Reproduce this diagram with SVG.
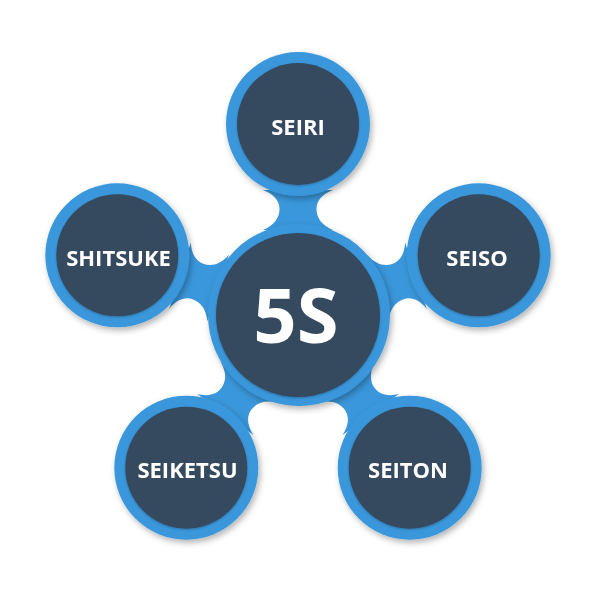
<svg xmlns="http://www.w3.org/2000/svg" width="600" height="600" viewBox="0 0 600 600">
  <defs>
    <filter id="shadow" x="-20%" y="-20%" width="150%" height="150%">
      <feDropShadow dx="2" dy="3" stdDeviation="3" flood-color="#000" flood-opacity="0.3"/>
    </filter>
    <filter id="inner" x="-20%" y="-20%" width="140%" height="140%">
      <feDropShadow dx="0" dy="1" stdDeviation="1.2" flood-color="#000" flood-opacity="0.25"/>
    </filter>
    <path id="neck" d="M84,-35 C89,-23 97,-18.5 105,-18.5 C113,-18.5 120,-24 124,-35 L124,35 C120,24 113,18.5 105,18.5 C97,18.5 89,23 84,35 Z"/>
  </defs>
  <style>
    .ring { fill: #3a97db; }
    .core { fill: #34495e; }
    .neck { fill: #3a97db; }
    .lbl { font-family: "Open Sans", "Liberation Sans", sans-serif; font-weight: bold; fill: #ffffff; text-anchor: middle; }
    .sat { font-size: 22px; }
    .hub { font-size: 76px; }
  </style>
  <rect x="0" y="0" width="600" height="600" fill="#ffffff"/>

  <g id="connectors" transform="translate(298,314)">
    <use href="#neck" class="neck" transform="rotate(-90)"/>
    <use href="#neck" class="neck" transform="rotate(-18)"/>
    <use href="#neck" class="neck" transform="rotate(54)"/>
    <use href="#neck" class="neck" transform="rotate(126)"/>
    <use href="#neck" class="neck" transform="rotate(198)"/>
  </g>

  <g id="seiri" filter="url(#shadow)">
    <circle class="ring" cx="298" cy="124" r="72"/>
    <circle class="core" cx="298" cy="124" r="61" filter="url(#inner)"/>
    <text class="lbl sat" x="298" y="134.5">SEIRI</text>
  </g>
  <g id="seiso" filter="url(#shadow)">
    <circle class="ring" cx="478.7" cy="255.3" r="72"/>
    <circle class="core" cx="478.7" cy="255.3" r="61" filter="url(#inner)"/>
    <text class="lbl sat" x="477" y="265.5">SEISO</text>
  </g>
  <g id="seiton" filter="url(#shadow)">
    <circle class="ring" cx="409.7" cy="467.7" r="72"/>
    <circle class="core" cx="409.7" cy="467.7" r="61" filter="url(#inner)"/>
    <text class="lbl sat" x="408" y="477.5">SEITON</text>
  </g>
  <g id="seiketsu" filter="url(#shadow)">
    <circle class="ring" cx="186.3" cy="467.7" r="72"/>
    <circle class="core" cx="186.3" cy="467.7" r="61" filter="url(#inner)"/>
    <text class="lbl sat" x="187.5" y="477.5">SEIKETSU</text>
  </g>
  <g id="shitsuke" filter="url(#shadow)">
    <circle class="ring" cx="117.3" cy="255.3" r="72"/>
    <circle class="core" cx="117.3" cy="255.3" r="61" filter="url(#inner)"/>
    <text class="lbl sat" x="118.5" y="265.5">SHITSUKE</text>
  </g>

  <g id="hub" filter="url(#shadow)">
    <circle class="ring" cx="299" cy="315" r="91"/>
    <circle class="core" cx="298" cy="315" r="82" filter="url(#inner)"/>
    <text class="lbl hub" x="296" y="343">5S</text>
  </g>
</svg>
